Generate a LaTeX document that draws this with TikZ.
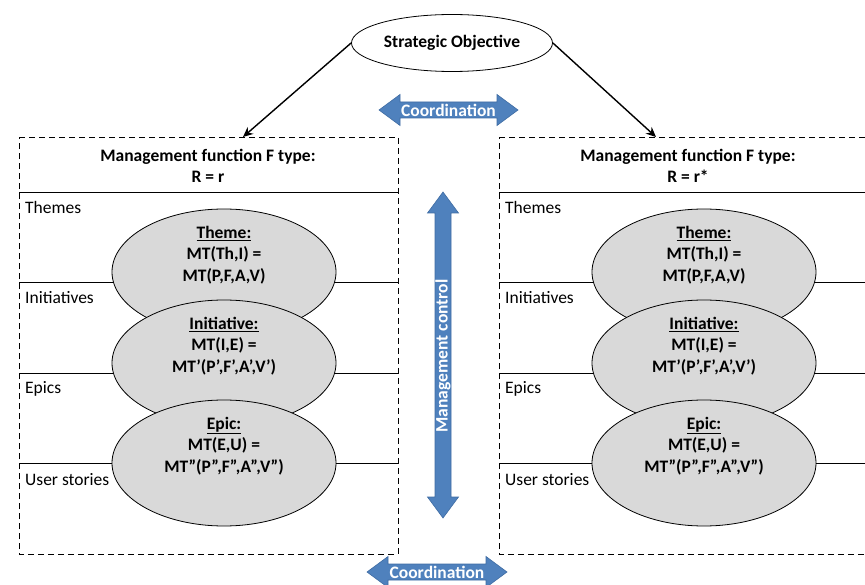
\documentclass[tikz,border=0pt]{standalone}
\usepackage{fontspec}
\setmainfont{Carlito}
\usetikzlibrary{shapes.geometric,arrows.meta}
\definecolor{ellgray}{RGB}{217,217,217}
\definecolor{blockblue}{RGB}{79,129,189}
\definecolor{blockedge}{RGB}{63,108,163}
\begin{document}
\begin{tikzpicture}[x=1pt,y=-1pt,
  panel/.style={draw, dash pattern=on 6pt off 4pt, line width=0.9pt},
  rowline/.style={draw, line width=0.9pt},
  lvl/.style={ellipse, draw, fill=ellgray, line width=0.8pt, minimum width=224pt, minimum height=126pt, inner sep=0pt},
  lvltext/.style={align=center, font=\bfseries\fontsize{17.5}{21.5}\selectfont, inner sep=0pt},
  head/.style={align=center, font=\bfseries\fontsize{17.5}{21}\selectfont, inner sep=0pt},
  rowlabel/.style={anchor=west, font=\fontsize{17.5}{21}\selectfont, inner sep=0pt},
  blockarrow/.style={fill=blockblue, draw=blockedge, line width=0.6pt},
  blocktext/.style={text=white, font=\bfseries\fontsize{17.5}{21}\selectfont, inner sep=0pt},
  link/.style={draw, line width=1.4pt, -{Stealth[length=10pt,width=9pt]}}]
\useasboundingbox (0,0) rectangle (865,585);

% strategic objective
\node[ellipse, draw, line width=0.8pt, minimum width=201pt, minimum height=57pt, inner sep=0pt,
      font=\bfseries\fontsize{17.5}{21}\selectfont] (so) at (452,43) {Strategic Objective};

% two management function panels; each drawn with an x offset
\foreach \dx/\rr/\pn in {0/r/L, 480/r*/R} {
  \begin{scope}[xshift=\dx]
    \path[panel] (19,137) -- (398,137) -- (398,554) -- (19,554) -- cycle;
    \path[rowline] (19,192) -- (398,192);
    \path[rowline] (19,282) -- (398,282);
    \path[rowline] (19,373) -- (398,373);
    \path[rowline] (19,463) -- (398,463);
    \node[head] (hd\pn) at (208,165.5) {Management function F type:\\R = \rr};
    \node[rowlabel] (lth\pn) at (25,207) {Themes};
    \node[rowlabel] (lin\pn) at (25,298) {Initiatives};
    \node[rowlabel] (lep\pn) at (25,389) {Epics};
    \node[rowlabel] (lus\pn) at (25,480) {User stories};
    \node[lvl] (th\pn) at (224,272) {};
    \node[lvltext] (tht\pn) at (224,255) {\underline{Theme:}\\MT(Th,I) =\\MT(P,F,A,V)};
    \node[lvl] (in\pn) at (224,363) {};
    \node[lvltext] (int\pn) at (224,346) {\underline{Initiative:}\\MT(I,E) =\\MT’(P’,F’,A’,V’)};
    \node[lvl] (ep\pn) at (224,463) {};
    \node[lvltext] (ept\pn) at (224,446) {\underline{Epic:}\\MT(E,U) =\\MT”(P”,F”,A”,V”)};
  \end{scope}
}

% arrows from the objective to the panels
\coordinate (tl) at (243,137);
\coordinate (tr) at (656,137);
\path[link] (so.west) -- (tl);
\path[link] (so.east) -- (tr);

% coordination between panels (top)
\path[blockarrow] (379,110) -- (400,94.5) -- (400,102) -- (497,102) -- (497,94.5) -- (518,110)
  -- (497,125.5) -- (497,118) -- (400,118) -- (400,125.5) -- cycle;
\node[blocktext] (co1) at (448.5,110) {Coordination};

% coordination between panels (bottom)
\path[blockarrow] (367,572) -- (388,556.5) -- (388,564) -- (486,564) -- (486,556.5) -- (507,572)
  -- (486,587.5) -- (486,580) -- (388,580) -- (388,587.5) -- cycle;
\node[blocktext] (co2) at (437,572) {Coordination};

% management control (vertical)
\path[blockarrow] (443,192) -- (458.5,213) -- (451,213) -- (451,497) -- (458.5,497) -- (443,518)
  -- (427.5,497) -- (435,497) -- (435,213) -- (427.5,213) -- cycle;
\node[blocktext, rotate=90] (mc) at (443,356) {Management control};
\end{tikzpicture}
\end{document}
